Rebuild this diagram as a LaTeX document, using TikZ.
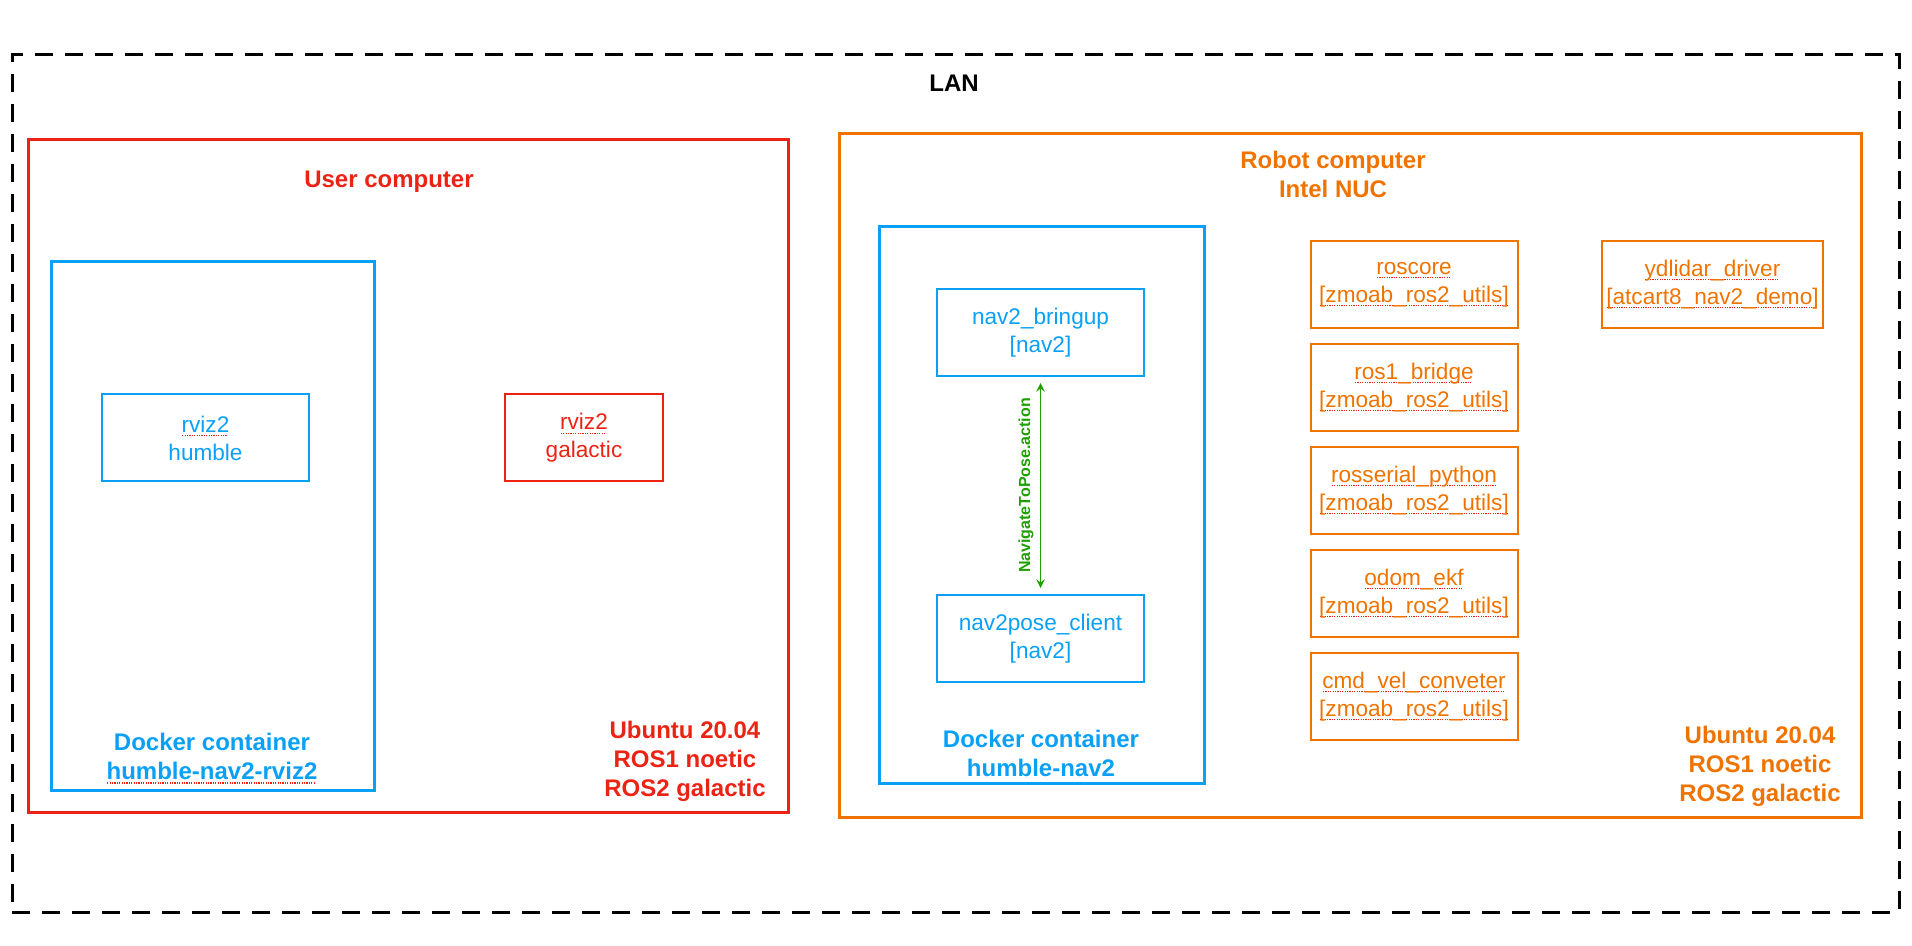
\documentclass[tikz,border=0pt]{standalone}
\usepackage{fontspec}
\setmainfont{Liberation Sans}
\usetikzlibrary{positioning,arrows}

\definecolor{usered}{RGB}{236,34,20}
\definecolor{dockblue}{RGB}{10,160,245}
\definecolor{robotorange}{RGB}{240,115,0}
\definecolor{actgreen}{RGB}{30,160,0}

% dotted red underline under a word
\newcommand{\spell}[1]{\leavevmode\setbox0\hbox{#1}%
\rlap{\color{usered}\raisebox{-2pt}{\hbox to\wd0{\leaders\hbox to 1.2pt{\hss\rule{0.6pt}{0.6pt}\hss}\hfill}}}\box0}

\begin{document}
\begin{tikzpicture}[
x=0.5pt,y=-0.5pt,
>=stealth,
frame/.style={
	draw,
	line width=1.5pt,
	inner sep=0pt
},
box/.style={
	draw,
	line width=1pt,
	inner sep=0pt,
	minimum width=103.5pt,
	minimum height=43.5pt,
	align=center,
	font=\fontsize{11.3}{14}\selectfont
},
title/.style={
	align=center,
	inner sep=0pt,
	font=\fontsize{12}{14.5}\selectfont\bfseries
},
action/.style={
	<->,
	actgreen,
	line width=0.9pt,
	shorten <=3pt,
	shorten >=3pt
}
]
\useasboundingbox (0,0) rectangle (1912,946);

% LAN
\node[frame,dash pattern=on 9pt off 6pt,minimum width=943.5pt,minimum height=428.5pt] (lan) at (955.5,483.5) {};
\node[title] (lanlbl) at (954,83) {LAN};

% user computer
\node[frame,usered,minimum width=380pt,minimum height=336pt] (user) at (408,476) {};
\node[title,usered] (userlbl) at (389,182) {User computer};
\node[title,usered] (useros) at (685,761) {Ubuntu 20.04\\ROS1 noetic\\ROS2 galactic};

\node[frame,dockblue,minimum width=161.5pt,minimum height=264pt] (dock1) at (212.5,526) {};
\node[title,dockblue] (dock1lbl) at (212,758.5) {Docker container\\\spell{humble-nav2-rviz2}};
\node[box,dockblue] (rvizh) at (205.5,438) {\spell{rviz2}\\humble};
\node[box,usered,minimum width=79pt] (rvizg) at (584,438) {\spell{rviz2}\\galactic};

% robot computer
\node[frame,robotorange,minimum width=511pt,minimum height=341.5pt] (robot) at (1350,475.5) {};
\node[title,robotorange] (robotlbl) at (1333,174.5) {Robot computer\\Intel NUC};
\node[title,robotorange] (robotos) at (1760,766) {Ubuntu 20.04\\ROS1 noetic\\ROS2 galactic};

\node[frame,dockblue,minimum width=162.5pt,minimum height=278pt] (dock2) at (1041.5,505) {};
\node[title,dockblue] (dock2lbl) at (1041,753.5) {Docker container\\humble-nav2};
\node[box,dockblue] (bringup) at (1040.5,332.5) {nav2\_bringup\\{[nav2]}};
\node[box,dockblue] (client) at (1040.5,638.5) {nav2pose\_client\\{[nav2]}};

\draw[action] (bringup) -- node[rotate=90,above,inner sep=3pt,font=\fontsize{8}{9}\selectfont\bfseries] (actlbl) {NavigateToPose.action} (client);

\foreach \i/\n/\t in {0/roscore/roscore,1/bridge/ros1\_bridge,2/serial/rosserial\_python,3/ekf/odom\_ekf,4/cmdvel/cmd\_vel\_conveter}
\node[box,robotorange] (\n) at (1414,{284.5+103*\i}) {\spell{\t}\\\spell{[zmoab\_ros2\_utils]}};

\node[box,robotorange,minimum width=110.5pt] (lidar) at (1712.5,284.5) {\spell{ydlidar\_driver}\\\spell{[atcart8\_nav2\_demo]}};
\end{tikzpicture}
\end{document}
